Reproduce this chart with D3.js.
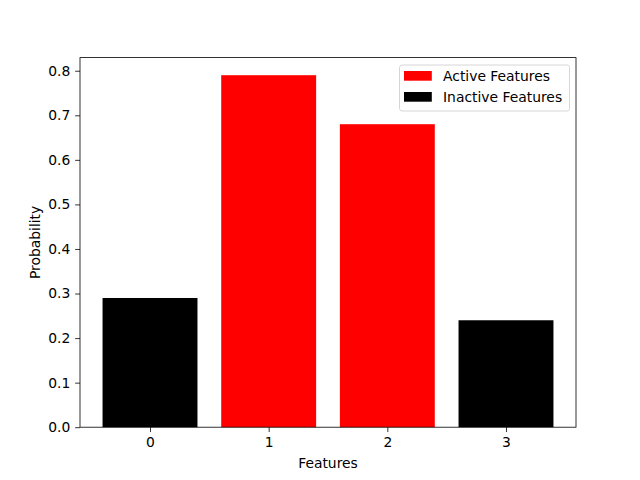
<!DOCTYPE html>
<html>
<head>
<meta charset="utf-8">
<script src="https://cdn.jsdelivr.net/npm/d3@7"></script>
<style>
  body { margin: 0; background: #fff; }
  svg text { font-family: "DejaVu Sans", sans-serif; }
</style>
</head>
<body>
<div id="chart"></div>
<script>
// chart values
var features = [0, 1, 2, 3];
var probs = [0.29, 0.79, 0.68, 0.24];
var active = [false, true, true, false];
var yTicks = [0.0, 0.1, 0.2, 0.3, 0.4, 0.5, 0.6, 0.7, 0.8];
var legendLabels = ["Active Features", "Inactive Features"];
var legendColors = ["#ff0000", "#000000"];

var W = 640, H = 480;
// plot area (named so they don't clash with window.top)
var pLeft = 80, pRight = 576, pTop = 57.6, pBottom = 427.2;
var fs = 13.89;

var svg = d3.select("#chart").append("svg")
    .attr("width", W)
    .attr("height", H);

var xScale = d3.scaleLinear()
    .domain([-0.59, 3.59])
    .range([pLeft, pRight]);

var yScale = d3.scaleLinear()
    .domain([0, 0.8295])
    .range([pBottom, pTop]);

var bw = 0.8;

// bars
svg.selectAll("rect.bar")
    .data(features)
    .enter()
    .append("rect")
    .attr("class", "bar")
    .attr("x", function(d) { return xScale(d - bw / 2); })
    .attr("width", function(d) { return xScale(d + bw / 2) - xScale(d - bw / 2); })
    .attr("y", function(d, i) { return yScale(probs[i]); })
    .attr("height", function(d, i) { return yScale(0) - yScale(probs[i]); })
    .attr("fill", function(d, i) { return active[i] ? "#ff0000" : "#000000"; });

// axes
var xAxis = d3.axisBottom(xScale)
    .tickValues(features)
    .tickFormat(d3.format("d"))
    .tickSize(4.86)
    .tickPadding(4.86);

var yAxis = d3.axisLeft(yScale)
    .tickValues(yTicks)
    .tickFormat(d3.format(".1f"))
    .tickSize(4.86)
    .tickPadding(4.86);

var gx = svg.append("g")
    .attr("transform", "translate(0," + pBottom + ")")
    .call(xAxis);
var gy = svg.append("g")
    .attr("transform", "translate(" + pLeft + ",0)")
    .call(yAxis);

[gx, gy].forEach(function(g) {
    g.select(".domain").remove();
    g.selectAll("line").attr("stroke", "#000").attr("stroke-width", 0.8);
    g.selectAll("text")
        .attr("font-size", fs)
        .attr("font-family", "DejaVu Sans")
        .attr("fill", "#000");
});

// frame
svg.append("rect")
    .attr("x", pLeft)
    .attr("y", pTop)
    .attr("width", pRight - pLeft)
    .attr("height", pBottom - pTop)
    .attr("fill", "none")
    .attr("stroke", "#000")
    .attr("stroke-width", 0.8);

// axis labels
svg.append("text")
    .attr("x", (pLeft + pRight) / 2)
    .attr("y", 468)
    .attr("text-anchor", "middle")
    .attr("font-size", fs)
    .text("Features");

svg.append("text")
    .attr("transform", "translate(40," + ((pTop + pBottom) / 2) + ") rotate(-90)")
    .attr("text-anchor", "middle")
    .attr("font-size", fs)
    .text("Probability");

// legend
var legend = svg.append("g");
legend.append("rect")
    .attr("x", 399.5)
    .attr("y", 65)
    .attr("width", 170)
    .attr("height", 46)
    .attr("rx", 2.5)
    .attr("fill", "#fff")
    .attr("fill-opacity", 0.8)
    .attr("stroke", "#cccccc")
    .attr("stroke-width", 0.8);

legendLabels.forEach(function(lab, i) {
    var yy = 71 + i * 21;
    legend.append("rect")
        .attr("x", 404)
        .attr("y", yy)
        .attr("width", 27.8)
        .attr("height", 9.7)
        .attr("fill", legendColors[i]);
    legend.append("text")
        .attr("x", 443)
        .attr("y", yy + 9.7)
        .attr("font-size", fs)
        .text(lab);
});
</script>
</body>
</html>
